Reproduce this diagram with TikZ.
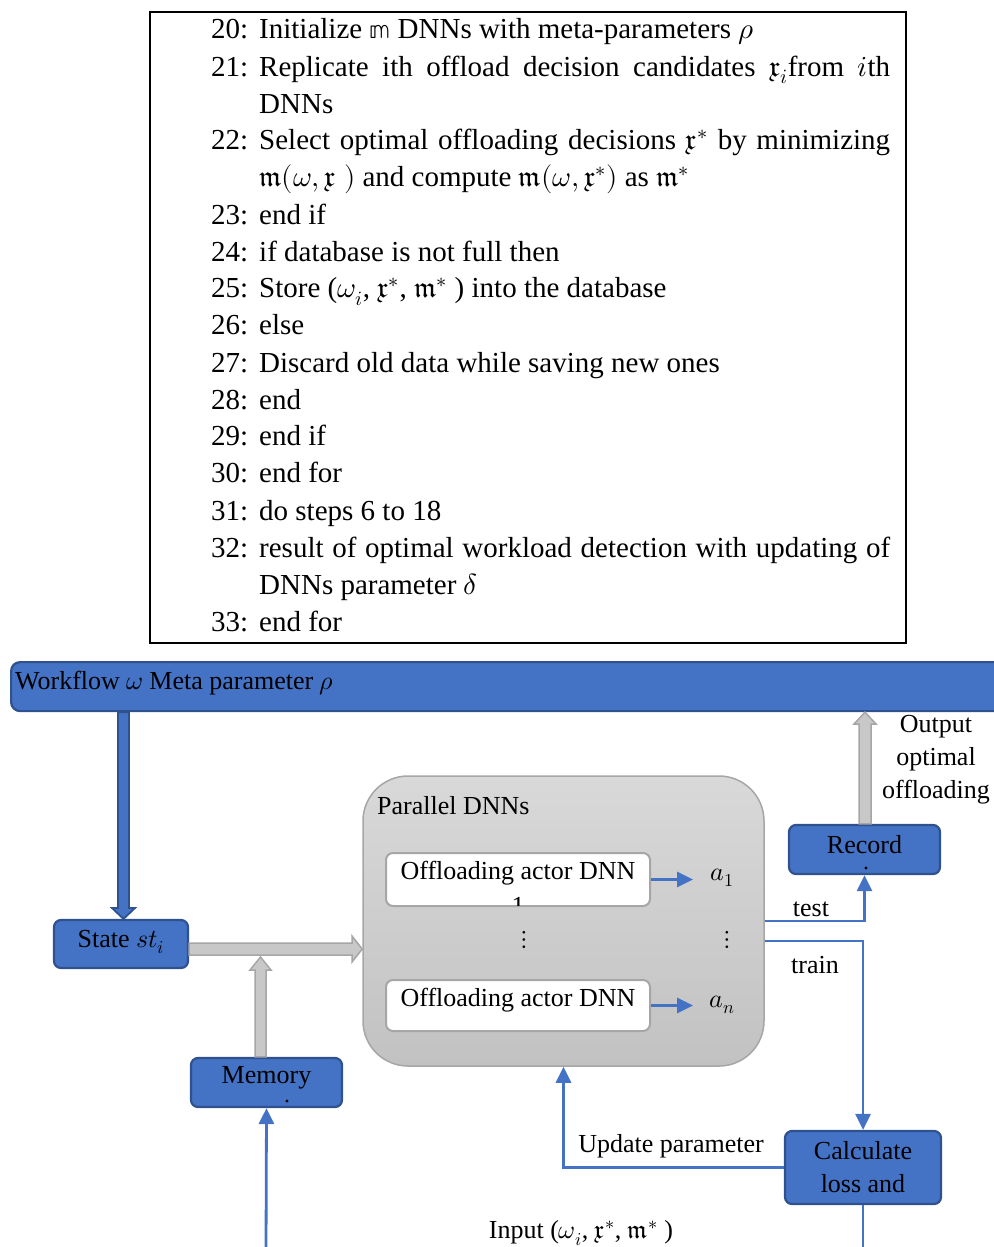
\documentclass[tikz,border=0pt]{standalone}
\usepackage{fontspec}
\usepackage{unicode-math}
\setmainfont{Liberation Serif}
\setmathfont{Latin Modern Math}
\usetikzlibrary{arrows.meta,calc}
\definecolor{bfill}{HTML}{4472C4}
\definecolor{bdraw}{HTML}{2F528F}
\definecolor{gfill}{HTML}{C8C8C8}
\definecolor{gdraw}{HTML}{A6A6A6}
\newcommand{\algline}[2]{\hangindent=48pt\hangafter=1\noindent\makebox[48pt][l]{#1}#2\par}
\tikzset{
  bluebox/.style={draw=bdraw, fill=bfill, line width=2.2pt, rounded corners=7pt, inner sep=0pt},
  dnnbox/.style={draw=gdraw, fill=white, line width=2pt, rounded corners=7pt, inner sep=0pt},
  link/.style={draw=bfill, line width=2.8pt, -{Triangle[width=15pt,length=16pt]}},
  plain/.style={draw=bfill, line width=2.8pt},
  garrow/.style={fill=gfill, draw=gdraw, line width=1.5pt, line join=miter},
  barrow/.style={fill=bfill, draw=bdraw, line width=1.8pt, line join=miter},
  lbl/.style={font=\fontsize{26}{33}\selectfont, inner sep=0pt},
}
\begin{document}
\begin{tikzpicture}[x=1pt,y=-1pt]
\useasboundingbox (0,0) rectangle (993,1247);

% algorithm box
\node[draw=black, line width=2pt, minimum width=756pt, minimum height=631pt, anchor=north west, inner sep=0pt] (algbox) at (149,11) {};
\node[anchor=base west, inner sep=0pt] (alg) at (211,39) {\parbox[t]{679pt}{\fontsize{29}{37}\selectfont\parindent=0pt\parskip=0pt\emergencystretch=20pt
\algline{20:}{Initialize $\mathbb{m}$ DNNs with meta-parameters $\rho$}
\algline{21:}{Replicate ith offload decision candidates $\mathfrak{x}_i$from $i$th\linebreak DNNs}
\algline{22:}{Select optimal offloading decisions $\mathfrak{x}^*$ by minimizing\linebreak $\mathfrak{m}(\omega,\mathfrak{x}\;)$ and compute $\mathfrak{m}(\omega,\mathfrak{x}^*)$ as $\mathfrak{m}^*$}
\algline{23:}{end if}
\algline{24:}{if database is not full then}
\algline{25:}{Store ($\omega_i$, $\mathfrak{x}^*$, $\mathfrak{m}^*$ ) into the database}
\algline{26:}{else}
\algline{27:}{Discard old data while saving new ones}
\algline{28:}{end}
\algline{29:}{end if}
\algline{30:}{end for}
\algline{31:}{do steps 6 to 18}
\algline{32:}{result of optimal workload detection with updating of\linebreak DNNs parameter $\delta$}
\algline{33:}{end for}
}};

% top bar
\node[bluebox, rounded corners=9pt, minimum width=1000pt, minimum height=49pt, anchor=north west] (bar) at (10,661) {};
\node[lbl, anchor=west] (bartext) at (15,683) {Workflow $\omega$ Meta parameter $\rho$};

% boxes
\node[bluebox, minimum width=134pt, minimum height=48pt] (state) at (121,944) {};
\node[lbl] at ([yshift=2pt]state.center) {State $st_i$};
\node[bluebox, minimum width=151pt, minimum height=49pt] (memory) at (266.5,1082.5) {};
\node[lbl] at ([yshift=4.5pt]memory.center) {Memory};
\fill (287,1101) circle (1.6pt);
\node[bluebox, minimum width=151pt, minimum height=49pt] (record) at (864.5,849.5) {};
\node[lbl] at ([yshift=4.5pt]record.center) {Record};
\fill (866,868) circle (1.6pt);
\node[bluebox, minimum width=156pt, minimum height=73pt, align=center, font=\fontsize{26}{33}\selectfont] (calc) at (863,1167.5) {Calculate\\loss and};

% parallel DNNs
\node[draw=gdraw, line width=1.5pt, top color=gray!30, bottom color=gray!48, rounded corners=45pt, minimum width=401pt, minimum height=290pt, inner sep=0pt] (par) at (563.5,921) {};
\node[lbl, anchor=west] (partext) at (377,806) {Parallel DNNs};
\node[dnnbox, minimum width=264pt, minimum height=53pt] (dnn1) at (518,879.5) {};
\node[lbl] at ([yshift=6.5pt]dnn1.center) {Offloading actor DNN};
\begin{scope}
\clip ([yshift=-2pt]dnn1.north west) rectangle ([yshift=2pt]dnn1.south east);
\node[lbl] (one) at (518,906) {1};
\end{scope}
\node[dnnbox, minimum width=264pt, minimum height=51pt] (dnnn) at (518,1005.5) {};
\node[lbl] at ([yshift=5.5pt]dnnn.center) {Offloading actor DNN};
\node[lbl] (a1) at (722,878) {$a_1$};
\node[lbl] (an) at (722,1005) {$a_n$};
\node[lbl] (vd1) at (524,940) {$\vdots$};
\node[lbl] (vd2) at (727,940) {$\vdots$};

% labels
\node[lbl] (test) at (811,909) {test};
\node[lbl] (train) at (815,965) {train};
\node[lbl, align=center] (out) at (936,760) {Output\\optimal\\offloading};
\node[lbl] (upd) at (671,1146) {Update parameter};
\node[lbl] (input) at (581,1233) {Input ($\omega_i$, $\mathfrak{x}^*$, $\mathfrak{m}^*$ )};

% blue connectors
\draw[link, shorten >=4pt] (dnn1.east) -- (dnn1.east -| 697,0);
\draw[link, shorten >=4pt] (dnnn.east) -- (dnnn.east -| 697,0);
\draw[link] (par.east) -| (record.south);
\draw[link] ([yshift=-20pt]par.east) -| (calc.north);
\draw[link] (calc.west) -| (par.south);
\coordinate (calcout) at (863,1252);
\draw[plain] (calc.south) -- (calcout);
\coordinate (memin) at (266,1252);
\draw[link] (memin) -- (memory.south);

% block arrows
\draw[barrow] (118,0 |- bar.south) -- (118,908) -- (112,908) -- (123.5,0 |- state.north) -- (135,908) -- (129,908) -- (129,0 |- bar.south) -- cycle;
\draw[garrow] (state.east |- 0,943) -- (352,943) -- (352,936) -- (par.west |- 0,949) -- (352,962) -- (352,955) -- (state.east |- 0,955) -- cycle;
\draw[garrow] (255,0 |- memory.north) -- (255,970) -- (250,970) -- (260.5,957) -- (271,970) -- (266,970) -- (266,0 |- memory.north) -- cycle;
\draw[garrow] (859,0 |- record.north) -- (859,724) -- (854,724) -- (865,0 |- bar.south) -- (876,724) -- (871,724) -- (871,0 |- record.north) -- cycle;
\end{tikzpicture}
\end{document}
